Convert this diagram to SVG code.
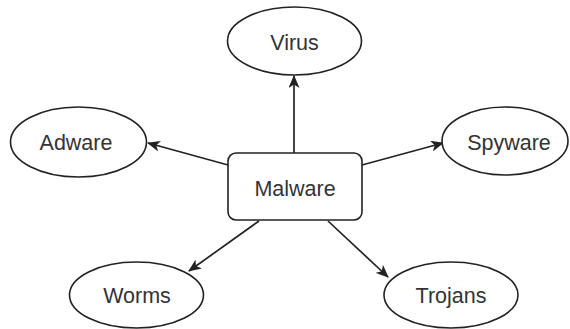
<svg xmlns="http://www.w3.org/2000/svg" width="570" height="329" viewBox="0 0 570 329">
<style>
.n{fill:#fff;stroke:#222;stroke-width:1.6}
.t{font-family:"Liberation Sans",Arial,sans-serif;font-size:21.5px;fill:#333;text-anchor:middle}
.c{stroke:#222;stroke-width:1.7;fill:none;marker-end:url(#a)}
</style>
<defs>
<marker id="a" viewBox="0 0 13 11" refX="12" refY="5.5" markerWidth="13" markerHeight="11" markerUnits="userSpaceOnUse" orient="auto">
<path d="M0,0 L13,5.5 L0,11 L3.5,5.5 Z" fill="#222"/>
</marker>
</defs>
<rect width="570" height="329" fill="#fff"/>
<g id="connectors">
<line class="c" x1="294" y1="153" x2="294" y2="76"/>
<line class="c" x1="228" y1="165" x2="148" y2="143"/>
<line class="c" x1="362" y1="165" x2="443" y2="143"/>
<line class="c" x1="259" y1="221" x2="189" y2="271"/>
<line class="c" x1="328" y1="221" x2="388" y2="277"/>
</g>
<g id="virus"><ellipse class="n" cx="294.5" cy="41" rx="67" ry="34"/><text class="t" x="294.5" y="50">Virus</text></g>
<g id="adware"><ellipse class="n" cx="78.5" cy="142" rx="68" ry="35"/><text class="t" x="76" y="150">Adware</text></g>
<g id="spyware"><ellipse class="n" cx="505" cy="141" rx="63" ry="34"/><text class="t" x="509" y="150">Spyware</text></g>
<g id="malware"><rect class="n" x="228" y="153" width="134" height="67" rx="8"/><text class="t" x="295" y="196">Malware</text></g>
<g id="worms"><ellipse class="n" cx="136.5" cy="295" rx="67" ry="33"/><text class="t" x="137" y="303">Worms</text></g>
<g id="trojans"><ellipse class="n" cx="451" cy="295" rx="67" ry="33"/><text class="t" x="451" y="303">Trojans</text></g>
</svg>
